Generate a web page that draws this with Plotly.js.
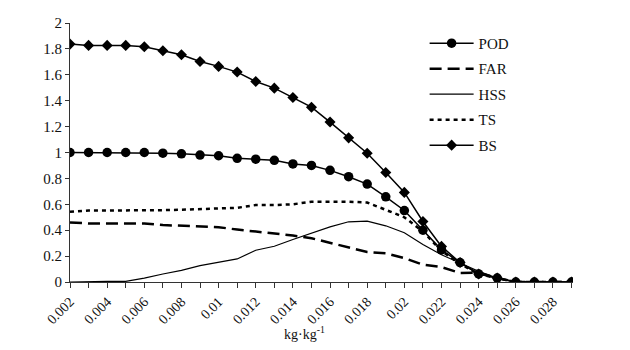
<!DOCTYPE html>
<html>
<head>
<meta charset="utf-8">
<script src="https://cdn.plot.ly/plotly-3.0.1.min.js"></script>
<style>html,body{margin:0;padding:0;background:#fff;}#chart{width:630px;height:350px;}</style>
</head>
<body>
<div id="chart"></div>
<script>
const thresholds = [0.002,0.003,0.004,0.005,0.006,0.007,0.008,0.009,0.010,0.011,0.012,0.013,0.014,0.015,0.016,0.017,0.018,0.019,0.020,0.021,0.022,0.023,0.024,0.025,0.026,0.027,0.028,0.029];
const POD = [1.00,1.00,1.00,1.00,1.00,0.995,0.99,0.98,0.975,0.955,0.948,0.94,0.912,0.90,0.862,0.813,0.756,0.658,0.552,0.40,0.248,0.15,0.062,0.03,0,0,0,0];
const FAR = [0.46,0.452,0.452,0.452,0.452,0.44,0.436,0.43,0.423,0.405,0.39,0.374,0.359,0.338,0.302,0.263,0.232,0.222,0.185,0.134,0.115,0.07,0.072,0.03,0,0,0,0];
const HSS = [0,0.005,0.005,0.005,0.03,0.062,0.09,0.126,0.152,0.178,0.245,0.276,0.328,0.38,0.426,0.465,0.47,0.434,0.38,0.29,0.21,0.147,0.082,0.03,0,0,0,0];
const TS  = [0.542,0.552,0.552,0.552,0.552,0.555,0.558,0.563,0.573,0.573,0.594,0.594,0.60,0.62,0.62,0.62,0.614,0.56,0.50,0.39,0.24,0.14,0.06,0.03,0,0,0,0];
const BS  = [1.837,1.827,1.827,1.827,1.817,1.786,1.755,1.703,1.665,1.621,1.548,1.497,1.425,1.35,1.235,1.113,0.994,0.846,0.692,0.467,0.275,0.15,0.062,0.03,0,0,0,0];
const xTickVals = [0.002,0.004,0.006,0.008,0.010,0.012,0.014,0.016,0.018,0.020,0.022,0.024,0.026,0.028];
const xTickText = ["0.002","0.004","0.006","0.008","0.01","0.012","0.014","0.016","0.018","0.02","0.022","0.024","0.026","0.028"];
const yTickVals = [0,0.2,0.4,0.6,0.8,1,1.2,1.4,1.6,1.8,2];
const yTickText = ["0","0.2","0.4","0.6","0.8","1","1.2","1.4","1.6","1.8","2"];
const xTitle = "kg·kg<sup>-1</sup>";

const FONT = "Liberation Serif, Times New Roman, serif";
const traces = [
  {name:"POD", y:POD, mode:"lines+markers", line:{color:"#000",width:1.5}, marker:{symbol:"circle",size:9.5,color:"#000"}},
  {name:"FAR", y:FAR, mode:"lines", line:{color:"#000",width:2.5,dash:"12px,6px"}},
  {name:"HSS", y:HSS, mode:"lines", line:{color:"#000",width:1.2}},
  {name:"TS",  y:TS,  mode:"lines", line:{color:"#000",width:2.5,dash:"4px,4px"}},
  {name:"BS",  y:BS,  mode:"lines+markers", line:{color:"#000",width:1.5}, marker:{symbol:"diamond",size:8.5,color:"#000"}}
].map((t,i)=>Object.assign({x:thresholds, type:"scatter", legendgroup:"g"+i}, t));

const layout = {
  width:630, height:350,
  margin:{l:70, r:57, t:23, b:68},
  paper_bgcolor:"#fff", plot_bgcolor:"#fff",
  font:{family:FONT, size:14, color:"#111"},
  showlegend:true,
  legend:{x:0.705, y:0.985, xanchor:"left", yanchor:"top", bgcolor:"rgba(0,0,0,0)", itemwidth:44, font:{family:FONT,size:15,color:"#111"}, traceorder:"grouped", tracegroupgap:3},
  xaxis:{range:[0.002,0.02908], showgrid:false, zeroline:false, showline:true, linecolor:"#333", linewidth:1,
         ticks:"outside", ticklen:5, tickcolor:"#333", tickmode:"array", tickvals:xTickVals, ticktext:xTickText,
         tickangle:-45, tickfont:{family:FONT,size:14,color:"#111"},
         minor:{tickmode:"linear", tick0:0.002, dtick:0.001, ticks:"outside", ticklen:5, tickcolor:"#333", showgrid:false}},
  yaxis:{range:[0,2], showgrid:false, zeroline:false, showline:true, linecolor:"#333", linewidth:1,
         ticks:"outside", ticklen:4, tickcolor:"#333", tickmode:"array", tickvals:yTickVals, ticktext:yTickText,
         tickfont:{family:FONT,size:15,color:"#111"}},
  annotations:[{text:xTitle, xref:"paper", yref:"paper", x:0.467, y:-0.196, xanchor:"center", yanchor:"middle", showarrow:false, font:{family:FONT,size:14,color:"#111"}}]
};
Plotly.newPlot("chart", traces, layout, {displayModeBar:false, staticPlot:true});
</script>
</body>
</html>
